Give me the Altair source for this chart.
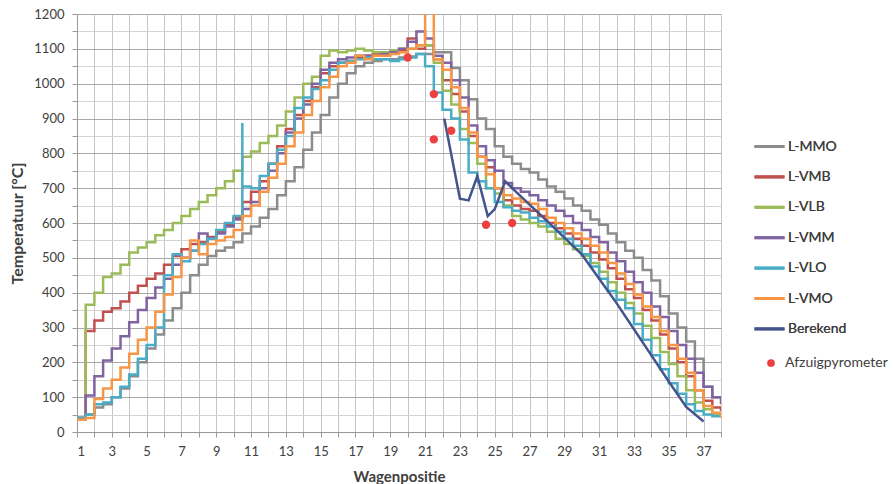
import altair as alt
import pandas as pd

# x positions of the measurements (every half wagon position, 1 .. 38)
positions = [1 + 0.5 * i for i in range(75)]

series_names = ["L-MMO", "L-VMB", "L-VLB", "L-VMM", "L-VLO", "L-VMO", "Berekend"]
series_colors = ["#8c8c8c", "#c0504d", "#9bbb59", "#8064a2", "#4bacc6", "#f79646", "#44548c"]

l_mmo = [40, 50, 70, 80, 100, 125, 160, 200, 240, 280,
         320, 355, 400, 450, 480, 505, 520, 530, 545, 570,
         590, 615, 640, 680, 720, 760, 810, 860, 910, 960,
         1000, 1030, 1050, 1060, 1065, 1070, 1070, 1075, 1078, 1085,
         1085, 1090, 1090, 1045, 1010, 955, 900, 870, 820, 790,
         770, 755, 745, 725, 705, 690, 670, 650, 635, 610,
         595, 570, 545, 520, 500, 465, 435, 390, 340, 300,
         260, 210, 130, 100, 95]

l_vmb = [40, 290, 320, 345, 355, 375, 400, 420, 440, 455,
         480, 505, 525, 540, 545, 560, 575, 595, 615, 660,
         690, 720, 770, 820, 870, 910, 950, 990, 1030, 1050,
         1060, 1065, 1075, 1080, 1085, 1085, 1090, 1095, 1130, 1100,
         1110, 1070, 1010, 970, 920, 850, 790, 760, 700, 665,
         650, 640, 635, 620, 600, 585, 570, 555, 535, 515,
         495, 470, 440, 410, 385, 350, 320, 280, 240, 200,
         160, 120, 90, 70, 60]

l_vlb = [40, 365, 400, 445, 455, 480, 515, 530, 545, 565,
         580, 600, 620, 640, 660, 680, 700, 720, 750, 790,
         805, 830, 850, 880, 920, 960, 1000, 1020, 1080, 1095,
         1090, 1095, 1100, 1095, 1090, 1090, 1095, 1100, 1100, 1110,
         1110, 1060, 980, 940, 870, 830, 770, 700, 685, 650,
         620, 610, 600, 590, 575, 555, 540, 525, 505, 485,
         460, 430, 400, 370, 340, 305, 270, 230, 195, 160,
         120, 85, 65, 50, 45]

l_vmm = [40, 105, 160, 205, 240, 275, 315, 350, 385, 415,
         440, 480, 500, 520, 570, 555, 570, 590, 610, 640,
         660, 700, 750, 800, 860, 900, 940, 1000, 1040, 1060,
         1070, 1075, 1080, 1080, 1080, 1085, 1090, 1100, 1120, 1150,
         1130, 1080, 1060, 1010, 960, 880, 820, 780, 750, 715,
         700, 690, 680, 665, 650, 635, 620, 600, 580, 560,
         545, 515, 490, 460, 430, 400, 360, 330, 290, 250,
         210, 170, 130, 100, 80]

l_vlo = [40, 50, 80, 85, 100, 130, 165, 210, 250, 300,
         450, 510, 490, 520, 540, 555, 580, 600, 620, 705,
         700, 735, 770, 810, 850, 930, 960, 985, 1010, 1040,
         1060, 1065, 1070, 1075, 1070, 1070, 1065, 1070, 1075, 1085,
         1050, 975, 925, 900, 840, 745, 720, 700, 660, 645,
         635, 630, 615, 605, 590, 575, 555, 535, 510, 475,
         440, 405, 380, 355, 310, 265, 220, 180, 140, 110,
         80, 60, 50, 45, 40]
vlo_spike_x = 10.5
vlo_spike_value = 887

l_vmo = [35, 40, 95, 125, 150, 185, 225, 265, 300, 345,
         395, 445, 500, 550, 510, 540, 550, 560, 580, 620,
         650, 690, 730, 770, 820, 860, 910, 950, 990, 1020,
         1050, 1060, 1080, 1070, 1080, 1080, 1085, 1090, 1100, 1110,
         1250, 1070, 1040, 990, 930, 860, 790, 740, 700, 680,
         670, 660, 655, 640, 615, 600, 585, 570, 555, 535,
         515, 485, 455, 425, 395, 360, 330, 290, 250, 210,
         170, 120, 75, 55, 40]

berekend_x = [22.1, 23.0, 23.5, 24.0, 24.6, 25.0, 25.6, 26, 27, 28, 29, 30,
              31, 32, 33, 34, 35, 36, 37]
berekend_y = [900, 670, 665, 735, 620, 640, 720, 700, 653, 606, 558, 510,
              440, 370, 295, 220, 145, 72, 30]

pyro_x = [20, 21.5, 21.5, 22.5, 24.5, 26]
pyro_y = [1075, 970, 840, 865, 595, 600]

x_ticks = list(range(1, 39))
y_ticks = list(range(0, 1201, 50))

# ---- build tables ----
step_rows = []
for name, vals in zip(series_names[:6], [l_mmo, l_vmb, l_vlb, l_vmm, l_vlo, l_vmo]):
    for i, (xv, yv) in enumerate(zip(positions, vals)):
        if name == "L-VLO" and xv == vlo_spike_x:
            step_rows.append({"series": name, "x": xv, "y": vlo_spike_value, "idx": i - 0.5})
        step_rows.append({"series": name, "x": xv, "y": yv, "idx": i})
step_df = pd.DataFrame(step_rows)

calc_df = pd.DataFrame({"series": "Berekend", "x": berekend_x, "y": berekend_y,
                        "idx": list(range(len(berekend_x)))})
pyro_df = pd.DataFrame({"kind": "Afzuigpyrometer", "x": pyro_x, "y": pyro_y})

FONT = "Lato"
TXT = "#404040"

x_scale = alt.Scale(domain=[1, 38], nice=False, zero=False)
y_scale = alt.Scale(domain=[0, 1200], nice=False)
color_scale = alt.Scale(domain=series_names, range=series_colors)

x_axis = alt.Axis(
    values=x_ticks, format="d",
    labelExpr="datum.value % 2 == 1 ? datum.label : ''",
    title="Wagenpositie", titleFont=FONT, titleFontSize=15, titleFontWeight="bold",
    titleColor=TXT, titleX=322, titleY=44, titleBaseline="middle", titleAlign="center",
    labelFont=FONT, labelFontSize=13, labelColor=TXT, labelPadding=8,
    grid=True, gridColor="#c6c6c6", gridWidth=1,
    tickSize=5, tickColor="#9a9a9a", domainColor="#9a9a9a",
)
y_axis = alt.Axis(
    values=y_ticks, format="d",
    labelExpr="datum.value % 100 == 0 ? datum.label : ''",
    title="Temperatuur [°C]", titleFont=FONT, titleFontSize=16, titleFontWeight="bold",
    titleColor=TXT, titleX=-60, titleY=209, titleBaseline="middle", titleAlign="center",
    labelFont=FONT, labelFontSize=13, labelColor=TXT, labelPadding=8,
    grid=True,
    gridColor={"condition": {"test": "datum.value % 100 == 0", "value": "#a8a8a8"},
               "value": "#d4d4d4"},
    tickSize=5, tickColor="#9a9a9a", domainColor="#9a9a9a",
)

legend_lines = alt.Legend(
    title=None, orient="none", legendX=676, legendY=116,
    symbolType="stroke", symbolSize=900, symbolStrokeWidth=3,
    labelFont=FONT, labelFontSize=14, labelColor=TXT, labelOffset=2,
    rowPadding=6.4,
)
legend_pts = alt.Legend(
    title=None, orient="none", legendX=687, legendY=342,
    symbolType="circle", symbolSize=60,
    labelFont=FONT, labelFontSize=14, labelColor=TXT, labelOffset=7,
)

X = alt.X("x:Q", scale=x_scale, axis=x_axis)
Y = alt.Y("y:Q", scale=y_scale, axis=y_axis)

steps = alt.Chart(step_df).mark_line(interpolate="step-after", strokeWidth=2.5, clip=True).encode(
    x=X, y=Y,
    color=alt.Color("series:N", scale=color_scale, legend=legend_lines),
    order="idx:Q",
)
calc = alt.Chart(calc_df).mark_line(strokeWidth=2.5, clip=True).encode(
    x=X, y=Y,
    color=alt.Color("series:N", scale=color_scale, legend=legend_lines),
    order="idx:Q",
)
pts = alt.Chart(pyro_df).mark_point(filled=True, size=70, opacity=1).encode(
    x=X, y=Y,
    color=alt.Color("kind:N", scale=alt.Scale(domain=["Afzuigpyrometer"], range=["#ee4040"]),
                    legend=legend_pts),
)

chart = alt.layer(steps, calc, pts).resolve_scale(color="independent").properties(
    width=644, height=418,
    autosize=alt.AutoSizeParams(type="none"),
    padding={"left": 77, "top": 14, "right": 172, "bottom": 52},
    background="white",
).configure_view(stroke=None)

chart.save("out.html", embed_options={"renderer": "svg", "actions": False})
